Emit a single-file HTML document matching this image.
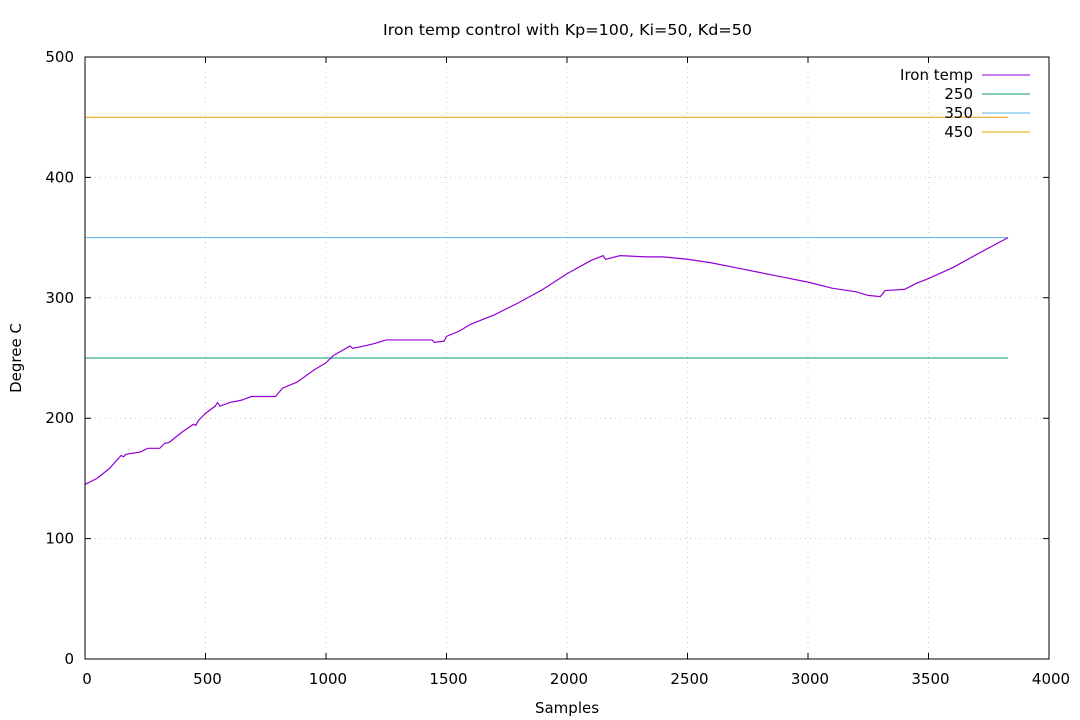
<!DOCTYPE html>
<html><head><meta charset="utf-8"><style>
body{margin:0;background:#fff}
svg{display:block;font-family:"DejaVu Sans","Liberation Sans",sans-serif}
</style></head><body>
<svg id="chart" width="1080" height="720" xmlns="http://www.w3.org/2000/svg"></svg>
<script>
const xTicks=[0,500,1000,1500,2000,2500,3000,3500,4000];
const yTicks=[0,100,200,300,400,500];
const sampleX=[0,50,100,150,160,170,230,260,310,330,350,400,450,460,470,500,540,550,560,600,650,690,790,820,880,950,1000,1030,1100,1110,1160,1200,1250,1440,1450,1490,1500,1550,1600,1700,1800,1900,2000,2100,2150,2160,2220,2330,2400,2500,2600,2700,2800,2900,3000,3100,3200,3250,3300,3320,3400,3450,3500,3600,3700,3830];
const ironTemp=[145,150,158,169,168,170,172,175,175,179,180,188,195,194,198,204,210,213,210,213,215,218,218,225,230,240,246,252,260,258,260,262,265,265,263,264,268,272,278,286,296,307,320,331,335,332,335,334,334,332,329,325,321,317,313,308,305,302,301,306,307,312,316,325,336,350];
const refLevels=[250,350,450];
const refNames=["250","350","450"];
const refColors=["#009e73","#56b4e9","#e69f00"];
const lineEnd=3830;
const L=85,R=1049,T=57,B=659;
const sx=v=>L+(v-0)/4000*(R-L);
const sy=v=>B-(v-0)/500*(B-T);
const svg=document.getElementById('chart');
const NS="http://www.w3.org/2000/svg";
function mk(tag,attrs,parent){const e=document.createElementNS(NS,tag);for(const k in attrs)e.setAttribute(k,attrs[k]);(parent||svg).appendChild(e);return e;}
xTicks.forEach((t,i)=>{
 if(i>0&&i<xTicks.length-1){const g=mk('line',{x1:sx(t),x2:sx(t),y1:T,y2:B,stroke:'#ccc','stroke-dasharray':'1,4'});
 
 }
 const tk=mk('path',{d:`M${sx(t)},${B}v-6M${sx(t)},${T}v6`,stroke:'#000'});
 
 
 const lb=mk('text',{x:sx(t)+2,y:B+25,'text-anchor':'middle','font-size':15});lb.textContent=t;
 
 
});
yTicks.forEach((t,i)=>{
 if(i>0&&i<yTicks.length-1){const g=mk('line',{x1:L,x2:R,y1:sy(t),y2:sy(t),stroke:'#ccc','stroke-dasharray':'1,4'});
 
 }
 const tk=mk('path',{d:`M${L},${sy(t)}h6M${R},${sy(t)}h-6`,stroke:'#000'});
 
 
 const lb=mk('text',{x:L-11,y:sy(t)+5,'text-anchor':'end','font-size':15});lb.textContent=t;
 
 
});
refLevels.forEach((v,i)=>{
 const l=mk('line',{x1:sx(0),x2:sx(lineEnd),y1:sy(v),y2:sy(v),stroke:refColors[i],'stroke-width':1});
 
 
});
let d=`M${sx(sampleX[0])},${sy(ironTemp[0])}`;
for(let i=1;i<sampleX.length;i++){d+=`L${sx(sampleX[i])},${sy(ironTemp[i])}`;}
const p=mk('path',{d:d,fill:'none',stroke:'#9400d3','stroke-width':1.2});


const bd=mk('rect',{x:L,y:T,width:R-L,height:B-T,fill:'none',stroke:'#000'});


const names=["Iron temp"].concat(refNames);
const cols=["#9400d3"].concat(refColors);
names.forEach((n,i)=>{
 const y=75+i*19;
 const t=mk('text',{x:973,y:y+5,'text-anchor':'end','font-size':15});t.textContent=n;
 
 
 const l=mk('line',{x1:982,x2:1030,y1:y,y2:y,stroke:cols[i]});
 
 
});
const tt=mk('text',{x:383,y:35,'font-size':15,textLength:369,lengthAdjust:'spacingAndGlyphs'});tt.textContent="Iron temp control with Kp=100, Ki=50, Kd=50";


const xt=mk('text',{x:567,y:713,'text-anchor':'middle','font-size':15});xt.textContent="Samples";


const yt=mk('text',{x:21,y:358,'text-anchor':'middle','font-size':15,transform:'rotate(-90 21 358)'});yt.textContent="Degree C";


</script>
</body></html>
